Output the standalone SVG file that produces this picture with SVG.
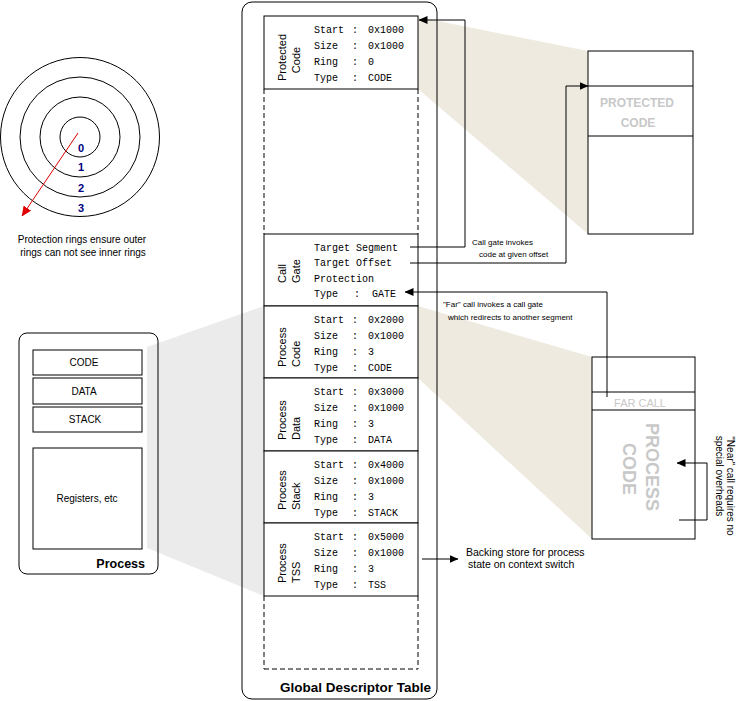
<svg xmlns="http://www.w3.org/2000/svg" width="740" height="701" viewBox="0 0 740 701">
<style>
.ln{fill:none;stroke:#000;stroke-width:1}
.box{fill:#fff;stroke:#000;stroke-width:1}
.dash{fill:none;stroke:#000;stroke-width:1;stroke-dasharray:5,3}
.mono{font-family:"Liberation Mono","DejaVu Sans Mono",monospace;font-size:10px;fill:#000}
.vl{font-family:"Liberation Sans",Arial,sans-serif;font-size:11px;fill:#000}
.sm{font-family:"Liberation Sans",Arial,sans-serif;font-size:8px;fill:#000}
.cap{font-family:"Liberation Sans",Arial,sans-serif;font-size:10px;fill:#000}
.lbl{font-family:"Liberation Sans",Arial,sans-serif;font-size:10px;fill:#000}
.ring{font-family:"Liberation Sans",Arial,sans-serif;font-size:11px;font-weight:bold;fill:#000080;text-anchor:middle}
.ghost{font-family:"Liberation Sans",Arial,sans-serif;font-weight:bold;fill:#c8c8c8;text-anchor:middle}
.title{font-family:"Liberation Sans",Arial,sans-serif;font-size:12.5px;font-weight:bold;fill:#000}
</style>
<defs>
<marker id="ah" markerWidth="9" markerHeight="8" refX="8.5" refY="4" orient="auto" markerUnits="userSpaceOnUse"><path d="M0,0 L9,4 L0,8 z" fill="#000"/></marker>
<marker id="ahr" markerWidth="10" markerHeight="9" refX="9.5" refY="4.5" orient="auto" markerUnits="userSpaceOnUse"><path d="M0,0 L10,4.5 L0,9 z" fill="#e00000"/></marker>
</defs>
<rect width="740" height="701" fill="#fff"/>

<!-- shading -->
<polygon points="418,17 588,51 588,234 418,89" fill="#eeeadf"/>
<polygon points="418,306 592,357 592,539 418,378" fill="#eeeadf"/>
<polygon points="147,347 264,306 264,596 147,548" fill="#ebebeb"/>

<!-- rings -->
<g id="rings">
<circle cx="80" cy="137" r="20" class="ln"/>
<circle cx="80" cy="137" r="40" class="ln"/>
<circle cx="80" cy="137" r="60" class="ln"/>
<circle cx="80" cy="137" r="79.5" class="ln"/>
<text x="81" y="152" class="ring">0</text>
<text x="81" y="171" class="ring">1</text>
<text x="81" y="192" class="ring">2</text>
<text x="81" y="212" class="ring">3</text>
<line x1="78" y1="133" x2="22" y2="216" stroke="#e00000" stroke-width="1" marker-end="url(#ahr)"/>
<text x="82" y="243" class="cap" text-anchor="middle">Protection rings ensure outer</text>
<text x="83" y="256" class="cap" text-anchor="middle">rings can not see inner rings</text>
</g>

<!-- process -->
<g id="process">
<rect x="19" y="333" width="139" height="241" rx="8" class="ln"/>
<rect x="33" y="350" width="109" height="25" class="box"/>
<text x="84" y="366" class="lbl" text-anchor="middle">CODE</text>
<rect x="33" y="378" width="109" height="26" class="box"/>
<text x="84" y="395" class="lbl" text-anchor="middle">DATA</text>
<rect x="33" y="407" width="109" height="25" class="box"/>
<text x="85" y="423" class="lbl" text-anchor="middle">STACK</text>
<rect x="33" y="448" width="109" height="101" class="box"/>
<text x="87" y="502" class="lbl" text-anchor="middle">Registers, etc</text>
<text x="145" y="568" class="title" text-anchor="end">Process</text>
</g>

<!-- GDT -->
<g id="gdt">
<rect x="242" y="2" width="195" height="697" rx="10" class="ln"/>
<line x1="264" y1="89" x2="264" y2="234" class="dash"/>
<line x1="418" y1="89" x2="418" y2="234" class="dash"/>
<line x1="264" y1="596" x2="264" y2="669" class="dash"/>
<line x1="418" y1="596" x2="418" y2="669" class="dash"/>
<line x1="264" y1="669" x2="418" y2="669" class="dash"/>
<text x="280" y="692" class="title" textLength="151" lengthAdjust="spacingAndGlyphs">Global Descriptor Table</text>
</g>

<g id="seg-protected-code">
<rect x="264" y="16" width="154" height="73" class="box"/>
<g transform="translate(0,57.5) rotate(-90)"><text x="0" y="286" class="vl" text-anchor="middle">Protected</text></g>
<g transform="translate(0,60) rotate(-90)"><text x="0" y="300" class="vl" text-anchor="middle">Code</text></g>
<text y="32.5" class="mono"><tspan x="314">Start</tspan><tspan x="352">:</tspan><tspan x="368">0x1000</tspan></text>
<text y="48.5" class="mono"><tspan x="314">Size</tspan><tspan x="352">:</tspan><tspan x="368">0x1000</tspan></text>
<text y="64.5" class="mono"><tspan x="314">Ring</tspan><tspan x="352">:</tspan><tspan x="368">0</tspan></text>
<text y="80.5" class="mono"><tspan x="314">Type</tspan><tspan x="352">:</tspan><tspan x="368">CODE</tspan></text>
</g>

<g id="seg-call-gate">
<rect x="264" y="234" width="154" height="72" class="box"/>
<g transform="translate(0,283) rotate(-90)"><text x="0" y="286" class="vl">Call</text><text x="0" y="300" class="vl">Gate</text></g>
<text x="314" y="250.5" class="mono">Target Segment</text>
<text x="314" y="266" class="mono">Target Offset</text>
<text x="314" y="281.5" class="mono">Protection</text>
<text y="297" class="mono"><tspan x="314">Type</tspan><tspan x="354">:</tspan><tspan x="372">GATE</tspan></text>
</g>

<g id="seg-process-code">
<rect x="264" y="306" width="154" height="72" class="box"/>
<g transform="translate(0,367) rotate(-90)"><text x="0" y="286" class="vl">Process</text><text x="0" y="300" class="vl">Code</text></g>
<text y="322.5" class="mono"><tspan x="314">Start</tspan><tspan x="352">:</tspan><tspan x="368">0x2000</tspan></text>
<text y="338.5" class="mono"><tspan x="314">Size</tspan><tspan x="352">:</tspan><tspan x="368">0x1000</tspan></text>
<text y="354.5" class="mono"><tspan x="314">Ring</tspan><tspan x="352">:</tspan><tspan x="368">3</tspan></text>
<text y="370.5" class="mono"><tspan x="314">Type</tspan><tspan x="352">:</tspan><tspan x="368">CODE</tspan></text>
</g>

<g id="seg-process-data">
<rect x="264" y="378" width="154" height="73" class="box"/>
<g transform="translate(0,440) rotate(-90)"><text x="0" y="286" class="vl">Process</text><text x="0" y="300" class="vl">Data</text></g>
<text y="395" class="mono"><tspan x="314">Start</tspan><tspan x="352">:</tspan><tspan x="368">0x3000</tspan></text>
<text y="411" class="mono"><tspan x="314">Size</tspan><tspan x="352">:</tspan><tspan x="368">0x1000</tspan></text>
<text y="427" class="mono"><tspan x="314">Ring</tspan><tspan x="352">:</tspan><tspan x="368">3</tspan></text>
<text y="443" class="mono"><tspan x="314">Type</tspan><tspan x="352">:</tspan><tspan x="368">DATA</tspan></text>
</g>

<g id="seg-process-stack">
<rect x="264" y="451" width="154" height="72" class="box"/>
<g transform="translate(0,510) rotate(-90)"><text x="0" y="286" class="vl">Process</text><text x="0" y="300" class="vl">Stack</text></g>
<text y="467.5" class="mono"><tspan x="314">Start</tspan><tspan x="352">:</tspan><tspan x="368">0x4000</tspan></text>
<text y="483.5" class="mono"><tspan x="314">Size</tspan><tspan x="352">:</tspan><tspan x="368">0x1000</tspan></text>
<text y="499.5" class="mono"><tspan x="314">Ring</tspan><tspan x="352">:</tspan><tspan x="368">3</tspan></text>
<text y="515.5" class="mono"><tspan x="314">Type</tspan><tspan x="352">:</tspan><tspan x="368">STACK</tspan></text>
</g>

<g id="seg-process-tss">
<rect x="264" y="523" width="154" height="73" class="box"/>
<g transform="translate(0,583) rotate(-90)"><text x="0" y="286" class="vl">Process</text><text x="0" y="300" class="vl">TSS</text></g>
<text y="540" class="mono"><tspan x="314">Start</tspan><tspan x="352">:</tspan><tspan x="368">0x5000</tspan></text>
<text y="556" class="mono"><tspan x="314">Size</tspan><tspan x="352">:</tspan><tspan x="368">0x1000</tspan></text>
<text y="572" class="mono"><tspan x="314">Ring</tspan><tspan x="352">:</tspan><tspan x="368">3</tspan></text>
<text y="588" class="mono"><tspan x="314">Type</tspan><tspan x="352">:</tspan><tspan x="368">TSS</tspan></text>
</g>

<!-- protected code memory -->
<g id="mem-protected">
<rect x="588" y="51" width="105" height="183" class="box"/>
<line x1="588" y1="86" x2="693" y2="86" class="ln"/>
<line x1="588" y1="136" x2="693" y2="136" class="ln"/>
<text x="637" y="107" class="ghost" font-size="12">PROTECTED</text>
<text x="638" y="127" class="ghost" font-size="12">CODE</text>
</g>

<!-- process code memory -->
<g id="mem-process">
<rect x="592" y="357" width="103" height="182" class="box"/>
<line x1="592" y1="392" x2="695" y2="392" class="ln"/>
<line x1="592" y1="410" x2="695" y2="410" class="ln"/>
<text x="640" y="407" class="ghost" font-size="11" style="font-weight:normal">FAR CALL</text>
<g transform="translate(652,467) rotate(90)"><text x="0" y="6.5" class="ghost" font-size="18">PROCESS</text></g>
<g transform="translate(629,469) rotate(90)"><text x="0" y="6.5" class="ghost" font-size="18">CODE</text></g>
</g>

<!-- connectors -->
<g id="connectors">
<path d="M410,247 H465 V20 H419" class="ln" marker-end="url(#ah)"/>
<path d="M410,263 H566 V86 H588" class="ln" marker-end="url(#ah)"/>
<path d="M607,397 V292 H405" class="ln" marker-end="url(#ah)"/>
<path d="M679,520 H707 V463 H677" class="ln" marker-end="url(#ah)"/>
<path d="M422,559 H458" class="ln" marker-end="url(#ah)"/>
</g>

<!-- annotations -->
<g id="notes">
<text x="472" y="245" class="sm">Call gate invokes</text>
<text x="479" y="257" class="sm">code at given offset</text>
<text x="443" y="307" class="sm">"Far" call invokes a call gate</text>
<text x="448" y="320" class="sm">which redirects to another segment</text>
<text x="466" y="556" class="lbl" font-size="10.5" style="font-size:10.5px">Backing store for process</text>
<text x="468" y="568" class="lbl" style="font-size:10.5px">state on context switch</text>
<g transform="translate(730,486) rotate(90)"><text x="0" y="3.5" class="cap" text-anchor="middle">"Near" call requires no</text></g>
<g transform="translate(719,476) rotate(90)"><text x="0" y="3.5" class="cap" text-anchor="middle">special overheads</text></g>
</g>
</svg>
